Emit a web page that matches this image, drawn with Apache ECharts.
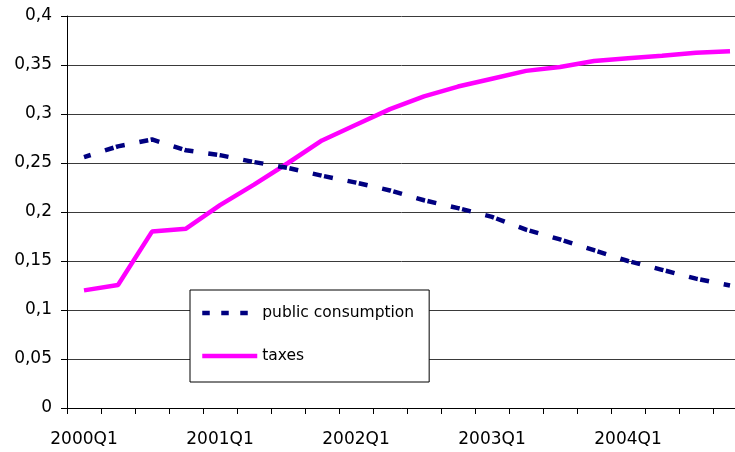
<!DOCTYPE html>
<html>
<head>
<meta charset="utf-8">
<script src="https://cdn.jsdelivr.net/npm/echarts@6/dist/echarts.min.js"></script>
<style>
html,body{margin:0;padding:0;background:#fff;}
#chart{width:735px;height:452px;}
</style>
</head>
<body>
<div id="chart"></div>
<script>
const categories = [
  '2000Q1','2000Q2','2000Q3','2000Q4',
  '2001Q1','2001Q2','2001Q3','2001Q4',
  '2002Q1','2002Q2','2002Q3','2002Q4',
  '2003Q1','2003Q2','2003Q3','2003Q4',
  '2004Q1','2004Q2','2004Q3','2004Q4'
];
const publicConsumption = [
  0.256, 0.267, 0.274, 0.263, 0.258, 0.251, 0.245, 0.237, 0.230, 0.222,
  0.212, 0.204, 0.195, 0.182, 0.172, 0.161, 0.150, 0.141, 0.132, 0.125
];
const taxes = [
  0.120, 0.1255, 0.180, 0.183, 0.207, 0.228, 0.250, 0.273, 0.289, 0.305,
  0.318, 0.328, 0.336, 0.344, 0.348, 0.354, 0.357, 0.3595, 0.3625, 0.364
];
const seriesNames = ['public consumption', 'taxes'];

const chart = echarts.init(document.getElementById('chart'));
const font = 'DejaVu Sans';
chart.setOption({
  animation: false,
  backgroundColor: '#fff',
  grid: { left: 67, width: 680, top: 16, bottom: 44, containLabel: false, outerBoundsMode: 'none' },
  legend: {
    orient: 'vertical',
    left: 190, top: 290,
    backgroundColor: '#fff',
    borderColor: '#000',
    borderWidth: 1,
    padding: [15, 15, 18, 10],
    itemWidth: 55,
    itemHeight: 16,
    itemGap: 27,
    itemStyle: { opacity: 0 },
    lineStyle: { width: 4.5 },
    textStyle: { fontFamily: font, fontSize: 15.5, color: '#000' },
    data: [
      { name: seriesNames[0], lineStyle: { width: 4.5, type: [7.5, 11.5], dashOffset: 0, color: '#000080' } },
      { name: seriesNames[1], lineStyle: { width: 4.5, color: '#FF00FF' } }
    ]
  },
  xAxis: {
    type: 'category',
    data: categories,
    boundaryGap: true,
    axisLine: { lineStyle: { color: '#000', width: 1 } },
    axisTick: { show: true, interval: 0, length: 6, lineStyle: { color: '#000' } },
    axisLabel: { interval: 3, margin: 23, fontFamily: font, fontSize: 17, color: '#000' },
    splitLine: { show: false }
  },
  yAxis: {
    type: 'value',
    min: 0, max: 0.4, interval: 0.05,
    axisLine: { show: true, lineStyle: { color: '#000', width: 1 } },
    axisTick: { show: true, length: 6, lineStyle: { color: '#000' } },
    axisLabel: {
      margin: 15, fontFamily: font, fontSize: 17, color: '#000',
      formatter: v => String(+v.toFixed(2)).replace('.', ',')
    },
    splitLine: { show: true, lineStyle: { color: '#3a3a3a', width: 1 } }
  },
  series: [
    {
      name: seriesNames[0],
      type: 'line',
      data: publicConsumption,
      symbol: 'none',
      color: '#000080',
      lineStyle: { color: '#000080', width: 4.5, type: [9, 2.5, 9, 15], dashOffset: 13.5, cap: 'butt' },
      z: 3
    },
    {
      name: seriesNames[1],
      type: 'line',
      data: taxes,
      symbol: 'none',
      color: '#FF00FF',
      lineStyle: { color: '#FF00FF', width: 4.5 },
      z: 2
    }
  ]
});
</script>
</body>
</html>
